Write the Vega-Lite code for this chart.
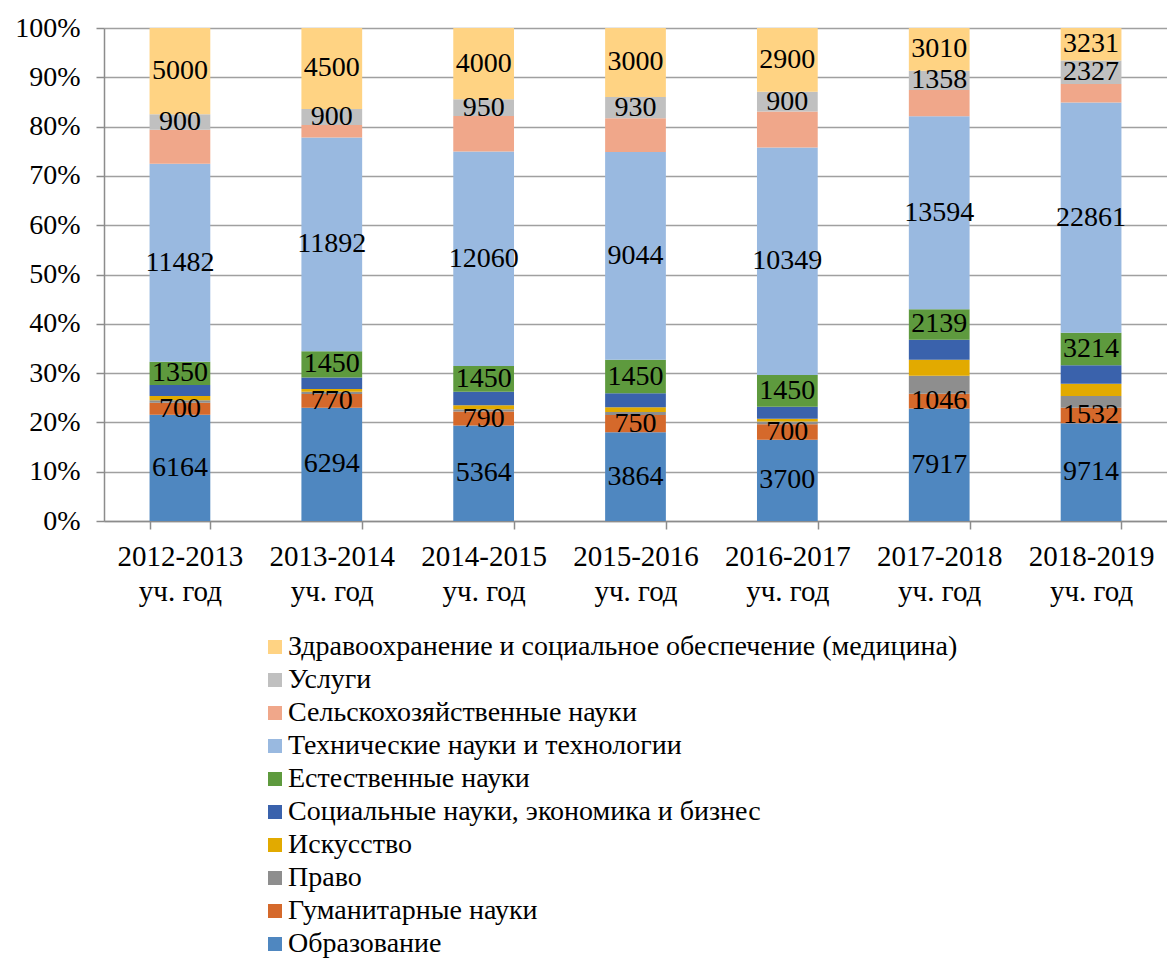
{
  "$schema": "https://vega.github.io/schema/vega-lite/v6.json",
  "width": 1063,
  "height": 493,
  "autosize": "none",
  "padding": {"left": 104, "top": 28, "right": 0, "bottom": 438},
  "background": "white",
  "config": {
    "view": {"stroke": null},
    "font": "Liberation Serif, Times New Roman, serif"
  },
  "data": {
    "values": [
      {"year": "2012-2013", "cat": "Образование", "value": 6164},
      {"year": "2012-2013", "cat": "Гуманитарные науки", "value": 700},
      {"year": "2012-2013", "cat": "Право", "value": 143},
      {"year": "2012-2013", "cat": "Искусство", "value": 244},
      {"year": "2012-2013", "cat": "Социальные науки, экономика и бизнес", "value": 646},
      {"year": "2012-2013", "cat": "Естественные науки", "value": 1350},
      {"year": "2012-2013", "cat": "Технические науки и технологии", "value": 11482},
      {"year": "2012-2013", "cat": "Сельскохозяйственные науки", "value": 1980},
      {"year": "2012-2013", "cat": "Услуги", "value": 900},
      {"year": "2012-2013", "cat": "Здравоохранение и социальное обеспечение (медицина)", "value": 5000},

      {"year": "2013-2014", "cat": "Образование", "value": 6294},
      {"year": "2013-2014", "cat": "Гуманитарные науки", "value": 770},
      {"year": "2013-2014", "cat": "Право", "value": 124},
      {"year": "2013-2014", "cat": "Искусство", "value": 150},
      {"year": "2013-2014", "cat": "Социальные науки, экономика и бизнес", "value": 650},
      {"year": "2013-2014", "cat": "Естественные науки", "value": 1450},
      {"year": "2013-2014", "cat": "Технические науки и технологии", "value": 11892},
      {"year": "2013-2014", "cat": "Сельскохозяйственные науки", "value": 690},
      {"year": "2013-2014", "cat": "Услуги", "value": 900},
      {"year": "2013-2014", "cat": "Здравоохранение и социальное обеспечение (медицина)", "value": 4500},

      {"year": "2014-2015", "cat": "Образование", "value": 5364},
      {"year": "2014-2015", "cat": "Гуманитарные науки", "value": 790},
      {"year": "2014-2015", "cat": "Право", "value": 125},
      {"year": "2014-2015", "cat": "Искусство", "value": 235},
      {"year": "2014-2015", "cat": "Социальные науки, экономика и бизнес", "value": 750},
      {"year": "2014-2015", "cat": "Естественные науки", "value": 1450},
      {"year": "2014-2015", "cat": "Технические науки и технологии", "value": 12060},
      {"year": "2014-2015", "cat": "Сельскохозяйственные науки", "value": 1995},
      {"year": "2014-2015", "cat": "Услуги", "value": 950},
      {"year": "2014-2015", "cat": "Здравоохранение и социальное обеспечение (медицина)", "value": 4000},

      {"year": "2015-2016", "cat": "Образование", "value": 3864},
      {"year": "2015-2016", "cat": "Гуманитарные науки", "value": 750},
      {"year": "2015-2016", "cat": "Право", "value": 129},
      {"year": "2015-2016", "cat": "Искусство", "value": 204},
      {"year": "2015-2016", "cat": "Социальные науки, экономика и бизнес", "value": 611},
      {"year": "2015-2016", "cat": "Естественные науки", "value": 1450},
      {"year": "2015-2016", "cat": "Технические науки и технологии", "value": 9044},
      {"year": "2015-2016", "cat": "Сельскохозяйственные науки", "value": 1459},
      {"year": "2015-2016", "cat": "Услуги", "value": 930},
      {"year": "2015-2016", "cat": "Здравоохранение и социальное обеспечение (медицина)", "value": 3000},

      {"year": "2016-2017", "cat": "Образование", "value": 3700},
      {"year": "2016-2017", "cat": "Гуманитарные науки", "value": 700},
      {"year": "2016-2017", "cat": "Право", "value": 123},
      {"year": "2016-2017", "cat": "Искусство", "value": 134},
      {"year": "2016-2017", "cat": "Социальные науки, экономика и бизнес", "value": 538},
      {"year": "2016-2017", "cat": "Естественные науки", "value": 1450},
      {"year": "2016-2017", "cat": "Технические науки и технологии", "value": 10349},
      {"year": "2016-2017", "cat": "Сельскохозяйственные науки", "value": 1635},
      {"year": "2016-2017", "cat": "Услуги", "value": 900},
      {"year": "2016-2017", "cat": "Здравоохранение и социальное обеспечение (медицина)", "value": 2900},

      {"year": "2017-2018", "cat": "Образование", "value": 7917},
      {"year": "2017-2018", "cat": "Гуманитарные науки", "value": 1046},
      {"year": "2017-2018", "cat": "Право", "value": 1267},
      {"year": "2017-2018", "cat": "Искусство", "value": 1128},
      {"year": "2017-2018", "cat": "Социальные науки, экономика и бизнес", "value": 1405},
      {"year": "2017-2018", "cat": "Естественные науки", "value": 2139},
      {"year": "2017-2018", "cat": "Технические науки и технологии", "value": 13594},
      {"year": "2017-2018", "cat": "Сельскохозяйственные науки", "value": 1839},
      {"year": "2017-2018", "cat": "Услуги", "value": 1358},
      {"year": "2017-2018", "cat": "Здравоохранение и социальное обеспечение (медицина)", "value": 3010},

      {"year": "2018-2019", "cat": "Образование", "value": 9714},
      {"year": "2018-2019", "cat": "Гуманитарные науки", "value": 1532},
      {"year": "2018-2019", "cat": "Право", "value": 1154},
      {"year": "2018-2019", "cat": "Искусство", "value": 1228},
      {"year": "2018-2019", "cat": "Социальные науки, экономика и бизнес", "value": 1841},
      {"year": "2018-2019", "cat": "Естественные науки", "value": 3214},
      {"year": "2018-2019", "cat": "Технические науки и технологии", "value": 22861},
      {"year": "2018-2019", "cat": "Сельскохозяйственные науки", "value": 1841},
      {"year": "2018-2019", "cat": "Услуги", "value": 2327},
      {"year": "2018-2019", "cat": "Здравоохранение и социальное обеспечение (медицина)", "value": 3231}
    ]
  },
  "transform": [
    {"stack": "value", "groupby": ["year"], "offset": "normalize", "as": ["y0", "y1"]},
    {"calculate": "(datum.y0 + datum.y1) / 2", "as": "ymid"}
  ],
  "encoding": {
    "x": {
      "field": "year",
      "type": "nominal",
      "sort": null,
      "title": null,
      "scale": {"paddingInner": 0.6, "paddingOuter": 0.3},
      "axis": {
        "labelAngle": 0,
        "labelExpr": "datum.label ? [datum.label, 'уч. год'] : ''",
        "labelFont": "Liberation Serif, Times New Roman, serif",
        "labelFontSize": 29,
        "labelColor": "#000000",
        "labelLineHeight": 35,
        "labelPadding": 13,
        "labelBaseline": "top",
        "tickBand": "extent",
        "tickColor": "#8C8C8C",
        "tickSize": 8,
        "tickWidth": 1.5,
        "domainColor": "#8C8C8C",
        "domainWidth": 1.5,
        "grid": false
      }
    }
  },
  "layer": [
    {
      "mark": {"type": "bar"},
      "encoding": {
        "y": {
          "field": "y0",
          "type": "quantitative",
          "scale": {"domain": [0, 1], "nice": false},
          "title": null,
          "axis": {
            "values": [0, 0.1, 0.2, 0.3, 0.4, 0.5, 0.6, 0.7, 0.8, 0.9, 1],
            "format": ".0%",
            "labelFont": "Liberation Serif, Times New Roman, serif",
            "labelFontSize": 28,
            "labelColor": "#000000",
            "labelPadding": 16,
            "tickColor": "#8C8C8C",
            "tickSize": 8,
            "tickWidth": 1.5,
            "domainColor": "#8C8C8C",
            "domainWidth": 1.5,
            "gridColor": "#A0A0A0",
            "gridWidth": 1.5
          }
        },
        "y2": {"field": "y1"},
        "color": {
          "field": "cat",
          "type": "nominal",
          "scale": {
            "domain": [
              "Здравоохранение и социальное обеспечение (медицина)",
              "Услуги",
              "Сельскохозяйственные науки",
              "Технические науки и технологии",
              "Естественные науки",
              "Социальные науки, экономика и бизнес",
              "Искусство",
              "Право",
              "Гуманитарные науки",
              "Образование"
            ],
            "range": ["#FFD383", "#C0C0C0", "#F0A78A", "#99B9E0", "#5E9A3E", "#3A62AC", "#E2AA00", "#8E8E8E", "#D5692B", "#4F87C0"]
          },
          "legend": {
            "title": null,
            "orient": "none",
            "legendX": 157,
            "legendY": 605,
            "padding": 0,
            "direction": "vertical",
            "symbolType": "square",
            "symbolSize": 196,
            "symbolStrokeWidth": 0,
            "labelFont": "Liberation Serif, Times New Roman, serif",
            "labelFontSize": 28,
            "labelColor": "#000000",
            "labelOffset": -1,
            "labelLimit": 900,
            "rowPadding": 5
          }
        }
      }
    },
    {
      "transform": [
        {"filter": {"field": "cat", "oneOf": ["Образование", "Гуманитарные науки", "Естественные науки", "Технические науки и технологии", "Услуги", "Здравоохранение и социальное обеспечение (медицина)"]}}
      ],
      "mark": {"type": "text", "font": "Liberation Serif, Times New Roman, serif", "fontSize": 28, "color": "#000000", "baseline": "middle", "align": "center"},
      "encoding": {
        "y": {"field": "ymid", "type": "quantitative"},
        "text": {"field": "value", "type": "quantitative", "format": "d"}
      }
    }
  ]
}
